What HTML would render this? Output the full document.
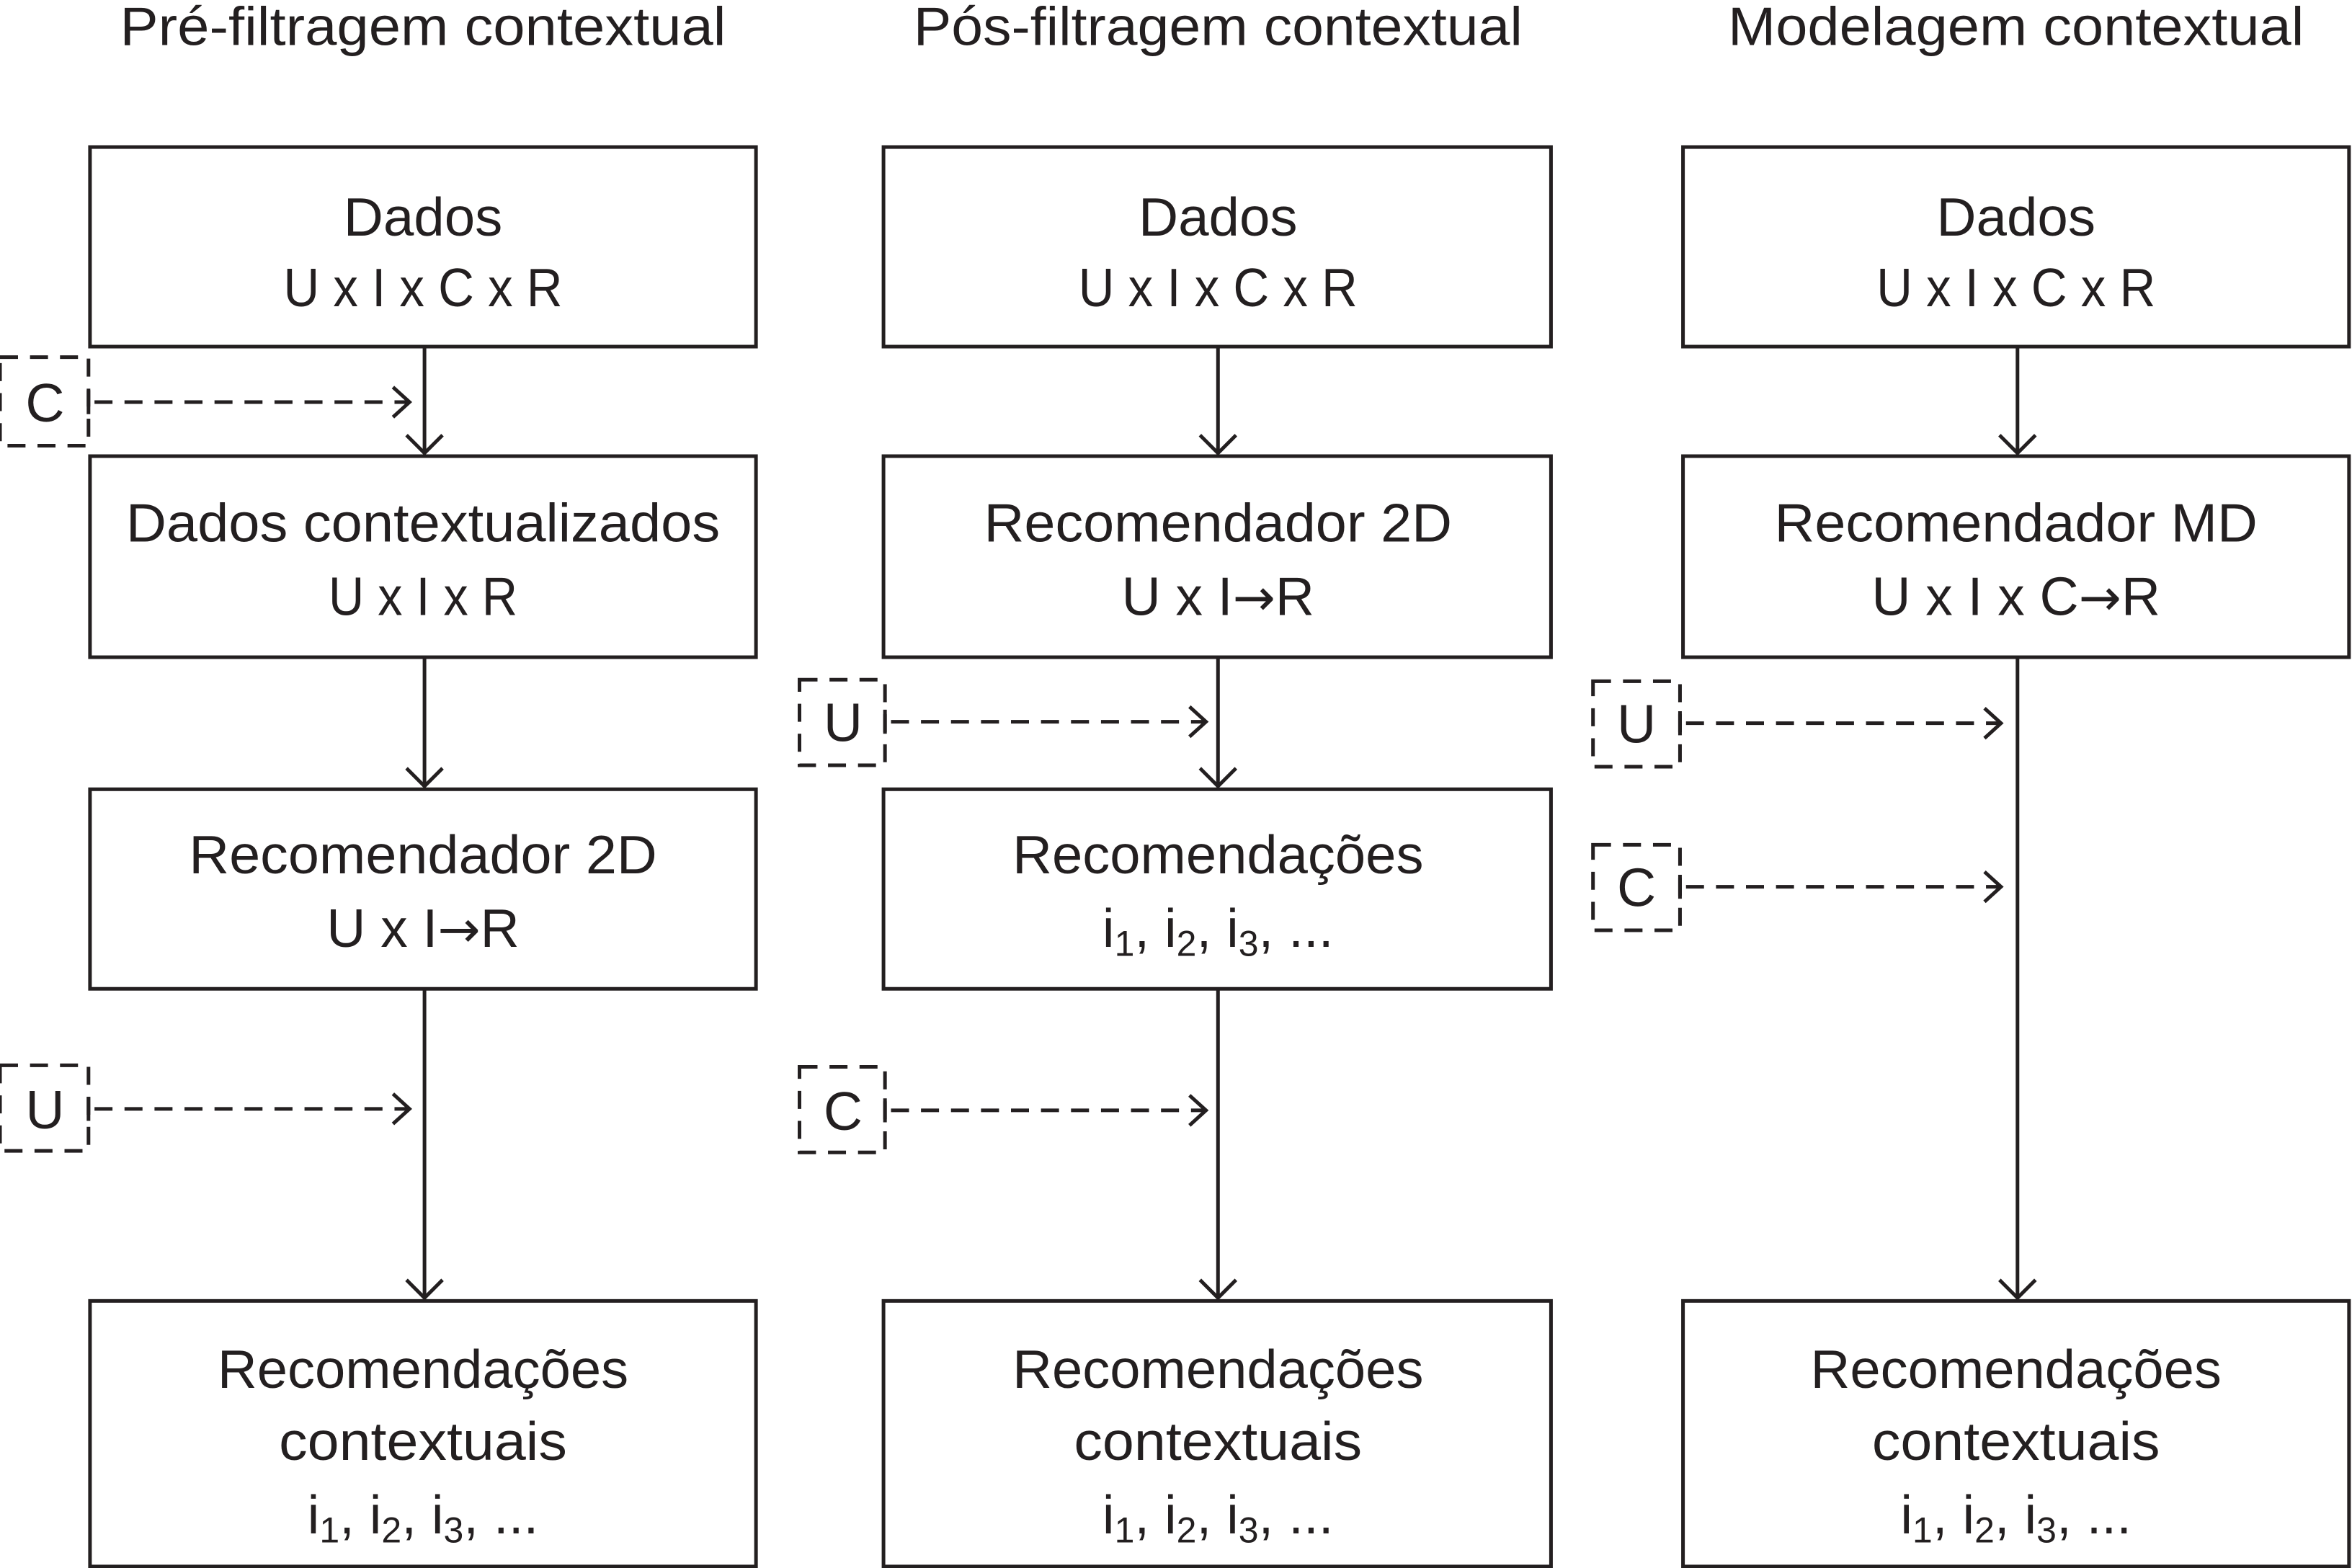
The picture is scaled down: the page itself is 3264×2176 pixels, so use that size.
<!DOCTYPE html>
<html><head><meta charset="utf-8"><style>
html,body{margin:0;padding:0;background:#fff;}
svg{display:block;}
text{font-family:"Liberation Sans",sans-serif;fill:#231f20;font-size:36px;}
.ar{font-family:"DejaVu Sans",sans-serif;font-size:34px;}
</style></head><body>
<svg width="3264" height="2176" viewBox="0 0 1568 1045" preserveAspectRatio="none" xmlns="http://www.w3.org/2000/svg">
<g fill="none" stroke="#231f20" stroke-width="2.4">
<rect x="60" y="98" width="444" height="133"/>
<rect x="60" y="304" width="444" height="134"/>
<rect x="60" y="526" width="444" height="133"/>
<rect x="60" y="867" width="444" height="177"/>
<rect x="589" y="98" width="445" height="133"/>
<rect x="589" y="304" width="445" height="134"/>
<rect x="589" y="526" width="445" height="133"/>
<rect x="589" y="867" width="445" height="177"/>
<rect x="1122" y="98" width="444" height="133"/>
<rect x="1122" y="304" width="444" height="134"/>
<rect x="1122" y="867" width="444" height="177"/>
<path d="M283 231V302M271 290L283 302L295 290"/>
<path d="M283 438V524M271 512L283 524L295 512"/>
<path d="M283 659V865M271 853L283 865L295 853"/>
<path d="M812 231V302M800 290L812 302L824 290"/>
<path d="M812 438V524M800 512L812 524L824 512"/>
<path d="M812 659V865M800 853L812 865L824 853"/>
<path d="M1345 231V302M1333 290L1345 302L1357 290"/>
<path d="M1345 438V865M1333 853L1345 865L1357 853"/>
<g stroke-dasharray="12 8">
<rect x="0" y="238" width="59" height="59"/>
<rect x="0" y="710" width="59" height="57"/>
<rect x="533" y="453" width="57" height="57"/>
<rect x="533" y="711" width="57" height="57"/>
<rect x="1062" y="454" width="58" height="57"/>
<rect x="1062" y="563" width="58" height="57"/>
<path d="M63 268H272"/>
<path d="M63 739H272"/>
<path d="M594 481H803"/>
<path d="M594 740H803"/>
<path d="M1124 482H1333"/>
<path d="M1124 591H1333"/>
</g>
<path d="M59 260V276M59 731V747M590 473V489M590 732V748M1120 474V490M1120 583V599"/>
<path d="M262 258L273 268L262 278"/>
<path d="M262 729L273 739L262 749"/>
<path d="M793 471L804 481L793 491"/>
<path d="M793 730L804 740L793 750"/>
<path d="M1323 472L1334 482L1323 492"/>
<path d="M1323 581L1334 591L1323 601"/>
</g>
<g text-anchor="middle">
<text x="282" y="30" textLength="404" lengthAdjust="spacingAndGlyphs">Pré-filtragem contextual</text>
<text x="812" y="30" textLength="406" lengthAdjust="spacingAndGlyphs">Pós-filtragem contextual</text>
<text x="1344" y="30" textLength="384" lengthAdjust="spacingAndGlyphs">Modelagem contextual</text>

<text x="282" y="157" textLength="106" lengthAdjust="spacingAndGlyphs">Dados</text>
<text x="282" y="204" textLength="186" lengthAdjust="spacingAndGlyphs">U x I x C x R</text>
<text x="812" y="157" textLength="106" lengthAdjust="spacingAndGlyphs">Dados</text>
<text x="812" y="204" textLength="186" lengthAdjust="spacingAndGlyphs">U x I x C x R</text>
<text x="1344" y="157" textLength="106" lengthAdjust="spacingAndGlyphs">Dados</text>
<text x="1344" y="204" textLength="186" lengthAdjust="spacingAndGlyphs">U x I x C x R</text>

<text x="282" y="361" textLength="396" lengthAdjust="spacingAndGlyphs">Dados contextualizados</text>
<text x="282" y="410" textLength="126" lengthAdjust="spacingAndGlyphs">U x I x R</text>
<text x="812" y="361" textLength="312" lengthAdjust="spacingAndGlyphs">Recomendador 2D</text>
<text x="812" y="410">U x I<tspan class="ar">→</tspan>R</text>
<text x="1344" y="361" textLength="322" lengthAdjust="spacingAndGlyphs">Recomendador MD</text>
<text x="1344" y="410">U x I x C<tspan class="ar">→</tspan>R</text>

<text x="282" y="582" textLength="312" lengthAdjust="spacingAndGlyphs">Recomendador 2D</text>
<text x="282" y="631">U x I<tspan class="ar">→</tspan>R</text>
<text x="812" y="582" textLength="274" lengthAdjust="spacingAndGlyphs">Recomendações</text>
<text x="812" y="631">i<tspan font-size="24" dy="6">1</tspan><tspan dy="-6">, i</tspan><tspan font-size="24" dy="6">2</tspan><tspan dy="-6">, i</tspan><tspan font-size="24" dy="6">3</tspan><tspan dy="-6">, ...</tspan></text>

<text x="282" y="925" textLength="274" lengthAdjust="spacingAndGlyphs">Recomendações</text>
<text x="282" y="973" textLength="192" lengthAdjust="spacingAndGlyphs">contextuais</text>
<text x="282" y="1022">i<tspan font-size="24" dy="6">1</tspan><tspan dy="-6">, i</tspan><tspan font-size="24" dy="6">2</tspan><tspan dy="-6">, i</tspan><tspan font-size="24" dy="6">3</tspan><tspan dy="-6">, ...</tspan></text>
<text x="812" y="925" textLength="274" lengthAdjust="spacingAndGlyphs">Recomendações</text>
<text x="812" y="973" textLength="192" lengthAdjust="spacingAndGlyphs">contextuais</text>
<text x="812" y="1022">i<tspan font-size="24" dy="6">1</tspan><tspan dy="-6">, i</tspan><tspan font-size="24" dy="6">2</tspan><tspan dy="-6">, i</tspan><tspan font-size="24" dy="6">3</tspan><tspan dy="-6">, ...</tspan></text>
<text x="1344" y="925" textLength="274" lengthAdjust="spacingAndGlyphs">Recomendações</text>
<text x="1344" y="973" textLength="192" lengthAdjust="spacingAndGlyphs">contextuais</text>
<text x="1344" y="1022">i<tspan font-size="24" dy="6">1</tspan><tspan dy="-6">, i</tspan><tspan font-size="24" dy="6">2</tspan><tspan dy="-6">, i</tspan><tspan font-size="24" dy="6">3</tspan><tspan dy="-6">, ...</tspan></text>

<text x="30" y="281">C</text>
<text x="30" y="752">U</text>
<text x="562" y="494">U</text>
<text x="562" y="753">C</text>
<text x="1091" y="495">U</text>
<text x="1091" y="604">C</text>
</g>
</svg>
</body></html>
